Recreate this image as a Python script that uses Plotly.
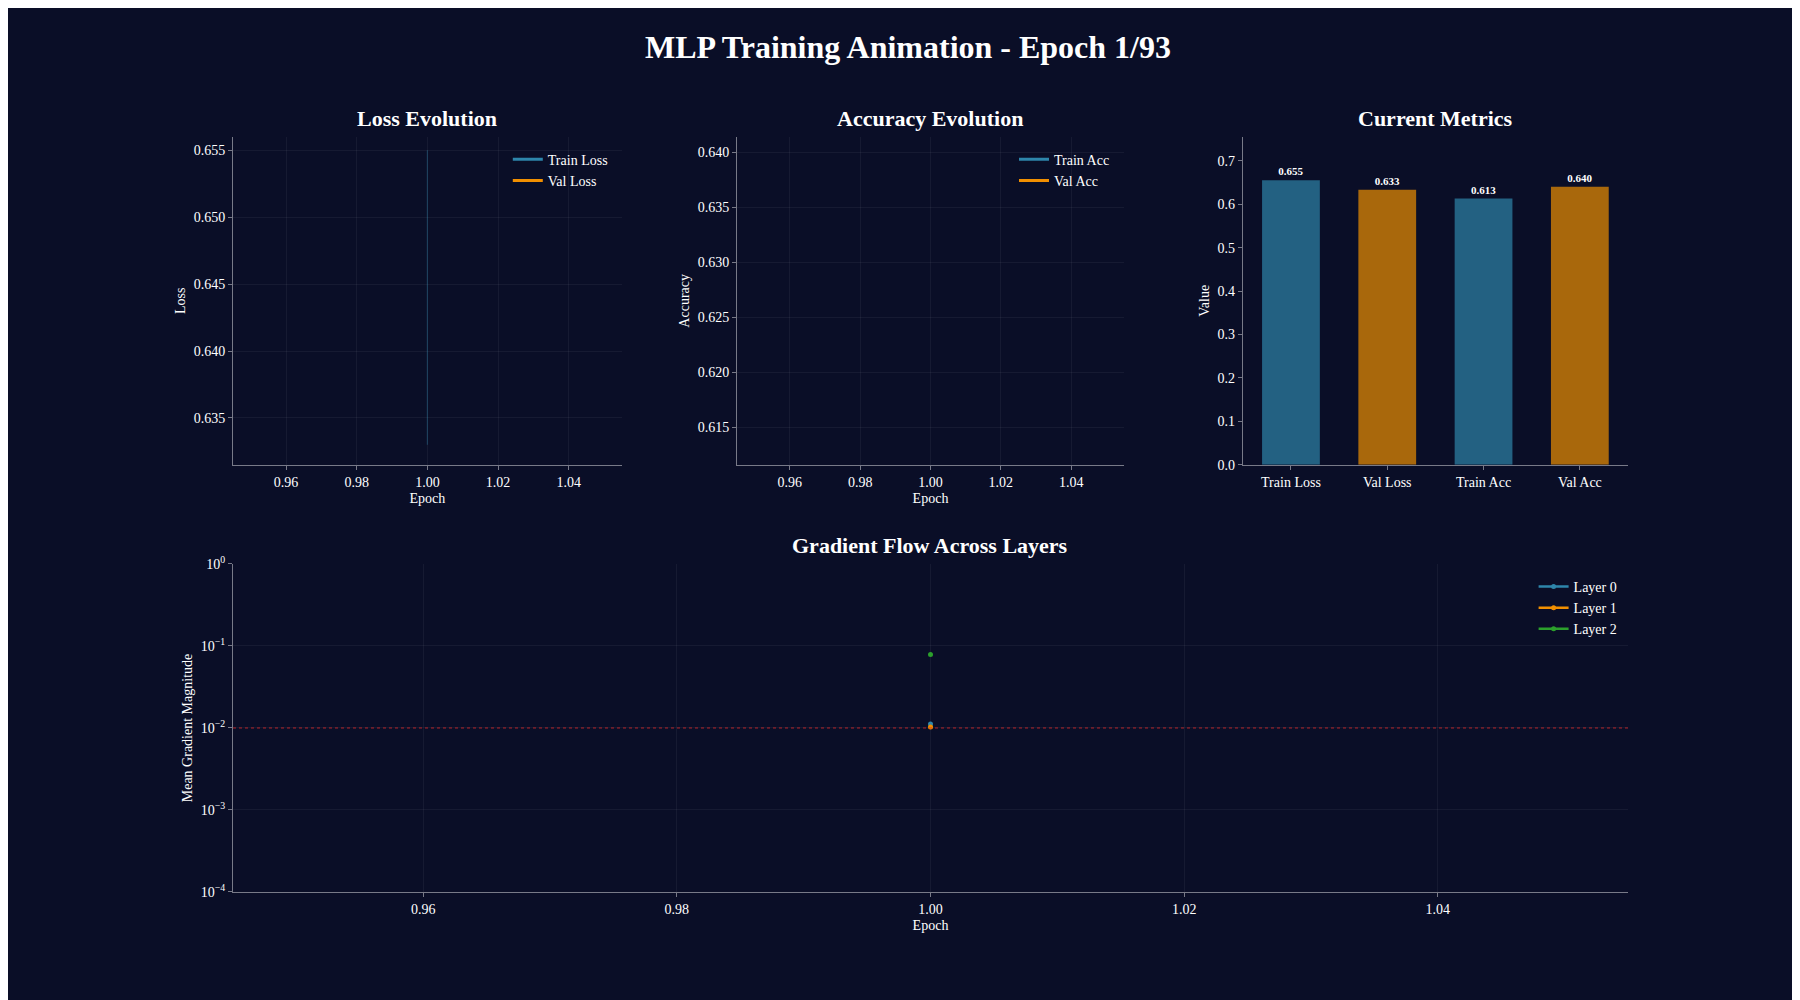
import plotly.graph_objects as go

epochs = [1]
train_loss = [0.655]
val_loss = [0.633]
train_acc = [0.613]
val_acc = [0.640]
metric_names = ["Train Loss", "Val Loss", "Train Acc", "Val Acc"]
metric_vals = [0.655, 0.633, 0.613, 0.640]
grad_layers = ["Layer 0", "Layer 1", "Layer 2"]
grad_vals = [[0.0112], [0.0103], [0.079]]

BG = "#0a0e27"
BLUE = "#2e86ab"
ORANGE = "#f18f01"
GREEN = "#2ca02c"
BLUE_BAR = "#236182"
ORANGE_BAR = "#a9680c"
F = "Liberation Serif"
GRID = "rgba(255,255,255,0.05)"
AX = "rgba(255,255,255,0.45)"

fig = go.Figure()
fig.add_trace(go.Scatter(x=epochs*2, y=[val_loss[0], train_loss[0]], mode="lines",
                         line=dict(color="rgba(46,134,171,0.35)", width=1.2), showlegend=False, xaxis="x", yaxis="y"))
fig.add_trace(go.Scatter(x=epochs, y=train_loss, mode="lines", name="Train Loss", line=dict(color=BLUE, width=3), xaxis="x", yaxis="y", legend="legend"))
fig.add_trace(go.Scatter(x=epochs, y=val_loss, mode="lines", name="Val Loss", line=dict(color=ORANGE, width=3), xaxis="x", yaxis="y", legend="legend"))
fig.add_trace(go.Scatter(x=epochs, y=train_acc, mode="lines", name="Train Acc", line=dict(color=BLUE, width=3), xaxis="x2", yaxis="y2", legend="legend2"))
fig.add_trace(go.Scatter(x=epochs, y=val_acc, mode="lines", name="Val Acc", line=dict(color=ORANGE, width=3), xaxis="x2", yaxis="y2", legend="legend2"))
fig.add_trace(go.Bar(x=metric_names, y=metric_vals, marker=dict(color=[BLUE_BAR, ORANGE_BAR, BLUE_BAR, ORANGE_BAR], line=dict(width=0)),
                     width=0.6, text=[f"<b>{v:.3f}</b>" for v in metric_vals], textposition="outside",
                     textfont=dict(family=F, size=11, color="white"), cliponaxis=False, showlegend=False, xaxis="x3", yaxis="y3"))
for name, vals, c in zip(grad_layers, grad_vals, [BLUE, ORANGE, GREEN]):
    fig.add_trace(go.Scatter(x=epochs, y=vals, mode="lines+markers", name=name, line=dict(color=c, width=2.5),
                             marker=dict(size=5, color=c), xaxis="x4", yaxis="y4", legend="legend3"))

fig.add_shape(type="line", xref="x4 domain", yref="y4", x0=0, x1=1, y0=0.01, y1=0.01,
              line=dict(color="rgba(220,40,40,0.8)", width=1, dash="dot"))

def ax(domain, anchor, **kw):
    d = dict(domain=domain, anchor=anchor, showgrid=True, gridcolor=GRID, zeroline=False,
             showline=True, linecolor=AX, linewidth=1, ticks="outside", tickcolor=AX, ticklen=4,
             tickfont=dict(family=F, size=14, color="white"),
             title_font=dict(family=F, size=14, color="white"), title_standoff=4)
    d.update(kw)
    return d

xt = [0.96, 0.98, 1.00, 1.02, 1.04]
xtt = ["0.96", "0.98", "1.00", "1.02", "1.04"]
fig.update_layout(
    width=1800, height=1000, paper_bgcolor=BG, plot_bgcolor=BG,
    margin=dict(l=0, r=0, t=0, b=0), font=dict(family=F, color="white"),
    title=dict(text="<b>MLP Training Animation - Epoch 1/93</b>", x=0.5, y=0.972, xanchor="center",
               font=dict(family=F, size=32, color="white")),
    xaxis=ax([0.125, 0.341], "y", range=[0.945, 1.055], tickvals=xt, ticktext=xtt, title_text="Epoch"),
    yaxis=ax([0.545, 0.879], "x", range=[0.6315, 0.656], dtick=0.005, tickformat=".3f", title_text="Loss"),
    xaxis2=ax([0.405, 0.620], "y2", range=[0.945, 1.055], tickvals=xt, ticktext=xtt, title_text="Epoch"),
    yaxis2=ax([0.545, 0.879], "x2", range=[0.6116, 0.6414], dtick=0.005, tickformat=".3f", title_text="Accuracy"),
    xaxis3=ax([0.686, 0.900], "y3", showgrid=False),
    yaxis3=ax([0.545, 0.879], "x3", range=[0, 0.755], dtick=0.1, tickformat=".1f", showgrid=False, title_text="Value"),
    xaxis4=ax([0.125, 0.900], "y4", range=[0.945, 1.055], tickvals=xt, ticktext=xtt, title_text="Epoch"),
    yaxis4=ax([0.110, 0.444], "x4", type="log", range=[-4, 0], tickvals=[1e-4, 1e-3, 1e-2, 1e-1, 1],
              ticktext=["10<sup>−4</sup>", "10<sup>−3</sup>", "10<sup>−2</sup>", "10<sup>−1</sup>", "10<sup>0</sup>"],
              title_text="Mean Gradient Magnitude"),
    legend=dict(x=0.336, y=0.872, xanchor="right", yanchor="top", bgcolor="rgba(0,0,0,0)", font=dict(family=F, size=14, color="white")),
    legend2=dict(x=0.615, y=0.872, xanchor="right", yanchor="top", bgcolor="rgba(0,0,0,0)", font=dict(family=F, size=14, color="white")),
    legend3=dict(x=0.897, y=0.437, xanchor="right", yanchor="top", bgcolor="rgba(0,0,0,0)", font=dict(family=F, size=14, color="white")),
    bargap=0.4,
)
for txt, x, y in [("Loss Evolution", 0.233, 0.879), ("Accuracy Evolution", 0.5125, 0.879),
                  ("Current Metrics", 0.793, 0.879), ("Gradient Flow Across Layers", 0.5125, 0.444)]:
    fig.add_annotation(text=f"<b>{txt}</b>", x=x, y=y, xref="paper", yref="paper", xanchor="center", yanchor="bottom",
                       yshift=4, showarrow=False, font=dict(family=F, size=22, color="white"))

fig.write_html("out.html")
